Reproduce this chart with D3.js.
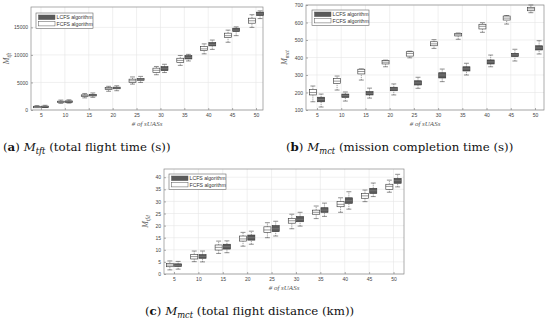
<!DOCTYPE html>
<html>
<head>
<meta charset="utf-8">
<script src="https://cdn.jsdelivr.net/npm/d3@7"></script>
<style>
body { margin: 0; background: #fff; }
svg { display: block; }
</style>
</head>
<body>
<svg id="chart" width="550" height="321"></svg>
<script>
// number of sUASs (x categories)
var nUAS = [5, 10, 15, 20, 25, 30, 35, 40, 45, 50];
var seriesNames = ["LCFS algorithm", "FCFS algorithm"];
// each entry: [lower whisker, q1, median, q3, upper whisker]
var tftFcfs = [[450,560,620,680,800],[1200,1400,1500,1600,1800],[2200,2450,2600,2750,3000],[3400,3700,3870,4050,4300],
    [4700,5000,5300,5600,6000],[6400,6800,7200,7600,7900],[8100,8600,9000,9400,9900],[10200,10780,11100,11500,12000],
    [12300,13150,13500,13950,14500],[15000,15760,16200,16670,17300]];
var tftLcfs = [[500,600,650,700,850],[1250,1450,1550,1650,1850],[2300,2550,2700,2850,3100],[3500,3850,4000,4150,4400],
    [5000,5400,5550,5700,6100],[6800,7150,7500,7870,8300],[8900,9270,9550,9870,10100],[11000,11640,11900,12240,12700],
    [13500,14240,14500,14850,15100],[16600,17150,17450,17760,18000]];
var mctFcfs = [[147,186,200,218,237],[214,252,265,281,294],[271,306,320,333,335],[347,363,373,382,385],
    [398,408,423,433,436],[452,467,478,490,502],[504,523,530,538,540],[544,563,578,590,599],
    [591,614,625,637,640],[656,667,678,687,700]];
var mctLcfs = [[117,147,160,173,191],[151,172,183,191,203],[168,186,195,205,225],[186,210,220,230,249],
    [224,243,255,267,287],[262,283,300,313,334],[300,323,335,347,367],[347,363,375,386,414],
    [380,405,415,424,447],[420,443,455,467,496]];
var tfdFcfs = [[1.7,3.0,3.7,4.4,5.4],[5.1,6.2,7.2,8.1,9.5],[8.5,9.9,11,12,13.6],[11.5,13.6,14.5,15.7,17.2],
    [15.0,17.2,18.2,19.5,21.2],[18.7,21,22,23,24.7],[22.9,24.7,25.5,26.4,28.1],[25.5,27.8,28.8,29.9,31.5],
    [29.9,31.3,32.3,33.3,34.7],[33.8,35,36.2,37.1,38.8]];
var tfdLcfs = [[2.0,3.1,3.6,4.2,5.2],[5.0,6.5,7.3,8.0,9.5],[8.8,10.3,11.3,12.3,13.7],[12.3,14,15,16.1,17.7],
    [15.7,17.5,18.7,20,21.8],[19.8,21.6,22.6,23.7,25.5],[23.8,25.5,26.4,27.4,29.3],[26.8,29.2,30.3,31.5,34],
    [32,33.3,34.4,35.4,37.6],[36,37.5,38.6,39.5,41.2]];
var tftTicks = [0, 5000, 10000, 15000];
var mctTicks = [100, 200, 300, 400, 500, 600, 700];
var tfdTicks = [0, 5, 10, 15, 20, 25, 30, 35, 40];

var svg = d3.select("#chart");
var darkFill = "#5a5a5a";

drawPanel({left: 31, right: 263, top: 7, bottom: 110, x5: 41, x50: 256,
    ymin: 0, ymax: 18700, ticks: tftTicks, fcfs: tftFcfs, lcfs: tftLcfs,
    ylab: "tft", ylabX: 9, legX: 36, legY: 13});
drawPanel({left: 306, right: 544, top: 5, bottom: 110, x5: 317, x50: 535,
    ymin: 100, ymax: 700, ticks: mctTicks, fcfs: mctFcfs, lcfs: mctLcfs,
    ylab: "mct", ylabX: 287, legX: 312, legY: 10});
drawPanel({left: 164, right: 404, top: 169, bottom: 274, x5: 174, x50: 393.5,
    ymin: 0, ymax: 43.4, ticks: tfdTicks, fcfs: tfdFcfs, lcfs: tfdLcfs,
    ylab: "tfd", ylabX: 148, legX: 169, legY: 174});

caption(3, 151, "a", "tft", "(total flight time (s))");
caption(286, 151, "b", "mct", "(mission completion time (s))");
caption(145, 315, "c", "mct", "(total flight distance (km))");

function drawPanel(c)
{
    var g = svg.append("g");
    var x = d3.scaleLinear().domain([5, 50]).range([c.x5, c.x50]);
    var y = d3.scaleLinear().domain([c.ymin, c.ymax]).range([c.bottom, c.top]);
    var step = x(10) - x(5);
    var bw = step * 0.29, off = step * 0.17;

    // grid
    g.selectAll(".gx").data(nUAS).enter().append("line")
        .attr("x1", function(d) { return x(d); }).attr("x2", function(d) { return x(d); })
        .attr("y1", c.top).attr("y2", c.bottom)
        .attr("stroke", "#e6e6e6").attr("stroke-width", 0.6);
    g.selectAll(".gy").data(c.ticks).enter().append("line")
        .attr("x1", c.left).attr("x2", c.right)
        .attr("y1", function(d) { return y(d); }).attr("y2", function(d) { return y(d); })
        .attr("stroke", "#e6e6e6").attr("stroke-width", 0.6);

    // axes
    var xAxis = d3.axisBottom(x).tickValues(nUAS).tickSize(-2).tickPadding(3.5);
    var yAxis = d3.axisLeft(y).tickValues(c.ticks).tickSize(-2).tickPadding(3).tickFormat(d3.format("d"));
    var ax = g.append("g").attr("transform", "translate(0," + c.bottom + ")").call(xAxis);
    var ay = g.append("g").attr("transform", "translate(" + c.left + ",0)").call(yAxis);
    [ax, ay].forEach(function(a) {
        a.select(".domain").remove();
        a.selectAll(".tick line").attr("stroke", "#777").attr("stroke-width", 0.6);
        a.selectAll("text").attr("font-family", "Liberation Sans").attr("font-size", 5).attr("fill", "#444");
    });
    g.append("rect").attr("x", c.left).attr("y", c.top)
        .attr("width", c.right - c.left).attr("height", c.bottom - c.top)
        .attr("fill", "none").attr("stroke", "#8a8a8a").attr("stroke-width", 0.7);

    // boxes
    drawBoxes(g, x, y, c.fcfs, -off, bw, "#fff");
    drawBoxes(g, x, y, c.lcfs, off, bw, darkFill);

    // axis labels
    var cx = (c.left + c.right) / 2;
    g.append("text").attr("x", cx).attr("y", c.bottom + 15.5)
        .attr("text-anchor", "middle").attr("font-family", "Liberation Serif")
        .attr("font-style", "italic").attr("font-size", 7).attr("fill", "#555")
        .text("# of sUASs");
    var yl = g.append("text")
        .attr("transform", "translate(" + c.ylabX + "," + ((c.top + c.bottom) / 2) + ") rotate(-90)")
        .attr("text-anchor", "middle").attr("font-family", "Liberation Serif")
        .attr("font-style", "italic").attr("font-size", 8).attr("fill", "#555");
    yl.append("tspan").text("M");
    yl.append("tspan").attr("font-size", 5.5).attr("dy", 2).text(c.ylab);

    // legend
    var lg = g.append("g").attr("transform", "translate(" + c.legX + "," + c.legY + ")");
    lg.append("rect").attr("width", 57).attr("height", 15.5)
        .attr("fill", "#fff").attr("stroke", "#666").attr("stroke-width", 0.6);
    var fills = [darkFill, "#fff"];
    seriesNames.forEach(function(s, i) {
        lg.append("rect").attr("x", 2.5).attr("y", 2 + i * 6.3).attr("width", 16.5).attr("height", 4.6)
            .attr("fill", fills[i]).attr("stroke", "#555").attr("stroke-width", 0.5);
        lg.append("text").attr("x", 20.5).attr("y", 6.4 + i * 6.3)
            .attr("font-family", "Liberation Sans").attr("font-size", 5.2).attr("fill", "#333")
            .text(s);
    });
}

function drawBoxes(g, x, y, data, off, bw, fill)
{
    var grp = g.selectAll(null).data(data).enter().append("g")
        .attr("transform", function(d, i) { return "translate(" + (x(nUAS[i]) + off) + ",0)"; });
    var cap = bw * 0.35;
    // whiskers (dashed)
    grp.append("line").attr("x1", 0).attr("x2", 0)
        .attr("y1", function(d) { return y(d[0]); }).attr("y2", function(d) { return y(d[1]); })
        .attr("stroke", "#444").attr("stroke-width", 0.5).attr("stroke-dasharray", "1.2,0.8");
    grp.append("line").attr("x1", 0).attr("x2", 0)
        .attr("y1", function(d) { return y(d[3]); }).attr("y2", function(d) { return y(d[4]); })
        .attr("stroke", "#444").attr("stroke-width", 0.5).attr("stroke-dasharray", "1.2,0.8");
    grp.append("line").attr("x1", -cap).attr("x2", cap)
        .attr("y1", function(d) { return y(d[0]); }).attr("y2", function(d) { return y(d[0]); })
        .attr("stroke", "#444").attr("stroke-width", 0.6);
    grp.append("line").attr("x1", -cap).attr("x2", cap)
        .attr("y1", function(d) { return y(d[4]); }).attr("y2", function(d) { return y(d[4]); })
        .attr("stroke", "#444").attr("stroke-width", 0.6);
    grp.append("rect").attr("x", -bw / 2).attr("width", bw)
        .attr("y", function(d) { return y(d[3]); })
        .attr("height", function(d) { return Math.max(1.5, y(d[1]) - y(d[3])); })
        .attr("fill", fill).attr("stroke", "#333").attr("stroke-width", 0.6);
    grp.append("line").attr("x1", -bw / 2).attr("x2", bw / 2)
        .attr("y1", function(d) { return y(d[2]); }).attr("y2", function(d) { return y(d[2]); })
        .attr("stroke", fill == "#fff" ? "#555" : "#888").attr("stroke-width", 0.6);
}

function caption(cx, cy, letter, sub, rest)
{
    var t = svg.append("text").attr("x", cx).attr("y", cy)
        .attr("font-family", "DejaVu Serif").attr("font-size", 11.8).attr("fill", "#111");
    t.append("tspan").text("(");
    t.append("tspan").attr("font-weight", "bold").text(letter);
    t.append("tspan").text(") ");
    t.append("tspan").attr("font-style", "italic").text("M");
    t.append("tspan").attr("font-style", "italic").attr("font-size", 8.3).attr("dy", 2.5).text(sub);
    t.append("tspan").attr("dy", -2.5).text(" " + rest);
}
</script>
</body>
</html>
